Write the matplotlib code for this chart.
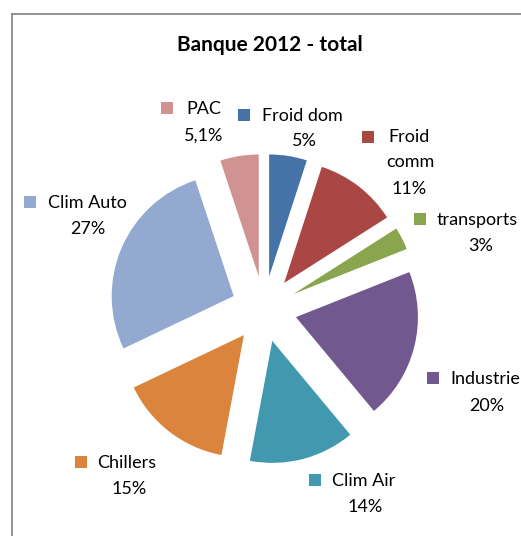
import matplotlib.pyplot as plt
from matplotlib.patches import Rectangle
from matplotlib.lines import Line2D

# data
categories = ["Froid dom", "Froid comm", "transports", "Industrie",
              "Clim Air", "Chillers", "Clim Auto", "PAC"]
shares = [5, 11, 3, 20, 14, 15, 27, 5.1]
pct_labels = ["5%", "11%", "3%", "20%", "14%", "15%", "27%", "5,1%"]
name_lines = [["Froid dom"], ["Froid", "comm"], ["transports"], ["Industrie"],
              ["Clim Air"], ["Chillers"], ["Clim Auto"], ["PAC"]]
colors = ["#4572A7", "#AA4643", "#89A54E", "#71588F",
          "#4198AF", "#DB843D", "#93A9CF", "#D19392"]

W, H = 521, 536
CX, CY, R = 264, 309, 122  # pie centre / radius in pixels

# label layout in pixels: (square centre x, y, text start x, pct centre x, pct y)
label_pos = [
    (244, 115, 262, 304, 141),
    (368, 137, 388, 409, 189),
    (420, 219, 437, 481, 246),
    (433, 378, 450, 487, 406),
    (315, 480, 332, 365, 507),
    (81, 462, 97, 129, 489),
    (30, 202, 48, 88, 229),
    (167, 108, 186, 204, 136),
]

plt.rcParams['font.family'] = ['Lato', 'DejaVu Sans']

fig = plt.figure(figsize=(W / 100, H / 100), dpi=100)
ax = fig.add_axes([0, 0, 1, 1])


def px(x, y):
    return (x - CX) / R, (CY - y) / R


ax.pie(shares, colors=colors, startangle=90, counterclock=False,
       explode=[0.27] * len(shares), radius=1, center=(0, 0),
       wedgeprops=dict(linewidth=0))
ax.set_xlim(-CX / R, (W - CX) / R)
ax.set_ylim((CY - H) / R, CY / R)
ax.set_aspect('equal', adjustable='box')
ax.axis('off')

fs = 13
sq = 11.5 / R
for lines, pct, col, (sx, sy, tx, pcx, pcy) in zip(name_lines, pct_labels, colors, label_pos):
    x0, y0 = px(sx, sy)
    ax.add_patch(Rectangle((x0 - sq / 2, y0 - sq / 2), sq, sq, color=col, lw=0))
    if len(lines) == 1:
        ax.text(*px(tx, sy + 1), lines[0], fontsize=fs, ha='left', va='center')
    else:
        ax.text(*px(pcx, sy), lines[0], fontsize=fs, ha='center', va='center')
        ax.text(*px(pcx + 1, sy + 25), lines[1], fontsize=fs, ha='center', va='center')
    ax.text(*px(pcx, pcy), pct, fontsize=fs, ha='center', va='center')

ax.text(*px(270, 45), "Banque 2012 - total", fontsize=15, fontweight='bold',
        ha='center', va='center')

# chart frame (left and top edges visible)
fig.add_artist(Line2D([11.5 / W, 11.5 / W], [0, 1 - 14 / H], color='#8a8a8a', lw=1.3,
                      transform=fig.transFigure))
fig.add_artist(Line2D([11.5 / W, 1], [1 - 14 / H, 1 - 14 / H], color='#8a8a8a', lw=1.3,
                      transform=fig.transFigure))

fig.savefig("out.png", dpi=100)
